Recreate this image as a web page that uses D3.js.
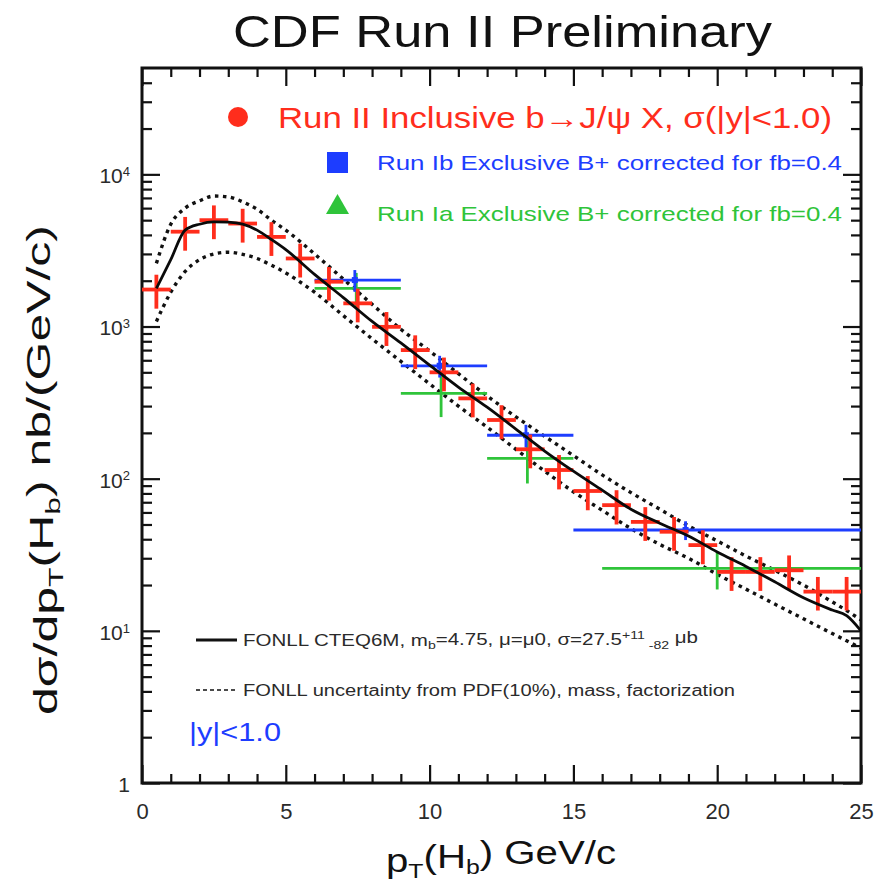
<!DOCTYPE html>
<html>
<head>
<meta charset="utf-8">
<script src="https://cdn.jsdelivr.net/npm/d3@7"></script>
<style>
  html, body { margin: 0; padding: 0; background: #fff; }
  svg { display: block; }
  text { font-family: "Liberation Sans", Arial, Helvetica, sans-serif; }
</style>
</head>
<body>
<svg id="chart" width="886" height="881"></svg>
<script>
// ---- Run II inclusive b -> J/psi X (bin centres, values, errors) ----
const runIIx   = [0.5, 1.5, 2.5, 3.5, 4.5, 5.5, 6.5, 7.5, 8.5, 9.5, 10.5, 11.5, 12.5,
                  13.5, 14.5, 15.5, 16.5, 17.5, 18.5, 19.5, 20.5, 21.5, 22.5, 23.5, 24.5];
const runIIy   = [1750, 4200, 5000, 4750, 3880, 2800, 1970, 1420, 995, 700, 500, 337, 243,
                  156, 114, 83, 67, 52, 44.8, 36.6, 24.4, 24.4, 25, 18.1, 18.1];
const runIIerr = [440, 1050, 1250, 1190, 970, 700, 490, 355, 250, 175, 125, 84, 61,
                  39, 29, 21, 17, 13, 11.2, 9.2, 6.1, 6.1, 6.3, 4.5, 4.5];
const runIIhalfBin = 0.5;

// ---- Run Ib exclusive B+ ----
const runIbx   = [7.4, 10.35, 13.35, 18.9];
const runIbLo  = [6, 9, 12, 15];
const runIbHi  = [9, 12, 15, 25];
const runIby   = [2020, 552, 193, 46];
const runIberr = [330, 90, 33, 6.5];

// ---- Run Ia exclusive B+ ----
const runIax   = [7.45, 10.4, 13.4, 20.0];
const runIaLo  = [6, 9, 12, 16];
const runIaHi  = [9, 12, 15, 25];
const runIay   = [1780, 364, 136, 25.7];
const runIaerr = [470, 110, 43, 7];

// ---- FONLL prediction: central value and uncertainty band ----
const fonllX     = [0.5, 1, 1.5, 2, 2.5, 3, 3.5, 4, 4.5, 5, 6, 7, 8, 9, 10, 11, 12, 13, 14, 15,
                    16, 17, 18, 19, 20, 21, 22, 23, 24, 24.5, 25];
const fonllCent  = [1780, 2750, 4300, 4700, 4870, 4850, 4710, 4300, 3730, 3200, 2200, 1550, 1080,
                    780, 558, 400, 295, 212, 152, 112, 84, 63, 51, 42, 33, 26.5, 21, 16.5, 13.7,
                    12.6, 10];
const fonllUpper = [2600, 4700, 6000, 6700, 7200, 7100, 6600, 5900, 5000, 4300, 3000, 2050, 1400,
                    960, 690, 490, 350, 255, 190, 142, 106, 81, 63, 49, 39, 31, 25, 20, 15.5,
                    13.6, 11.8];
const fonllLower = [1080, 1680, 2300, 2750, 3000, 3080, 2980, 2800, 2530, 2250, 1680, 1180, 830,
                    590, 420, 300, 218, 156, 112, 82, 62, 47, 37, 30, 23.5, 18.8, 15, 12, 9.6,
                    8.6, 7.7];

// ---- axis ticks ----
const xMajorTicks = [0, 5, 10, 15, 20, 25];
const xMinorTicks = d3.range(0, 26).filter(v => v % 5 !== 0);
const yMajorTicks = [1, 10, 100, 1000, 10000];
const yMinorTicks = [];
[1, 10, 100, 1000, 10000].forEach(d => {
  for (let k = 2; k <= 9; k++) if (k * d < 5e4) yMinorTicks.push(k * d);
});

const RED = "#ff2d1c", BLUE = "#1d3dff", GREEN = "#2fc43a";

const svg = d3.select("#chart");
const X0 = 142, X1 = 861, Y0 = 68, Y1 = 783;
const x = d3.scaleLinear().domain([0, 25]).range([X0, X1]);
const y = d3.scaleLog().domain([1, 5e4]).range([Y1, Y0]);

// ---- title ----
svg.append("text").attr("x", 233).attr("y", 47)
  .attr("font-size", 45).attr("fill", "#111")
  .attr("textLength", 539).attr("lengthAdjust", "spacingAndGlyphs")
  .text("CDF Run II Preliminary");

// ---- axes (ticks point inwards on all four sides) ----
const axisColor = "#111";
function styleAxis(g) {
  g.select(".domain").remove();
  g.selectAll(".tick line").attr("stroke", axisColor).attr("stroke-width", 2.2);
  g.selectAll(".tick text").attr("fill", "#2a2a2a").attr("font-family", "Liberation Sans, Arial, sans-serif");
}
// bottom
svg.append("g").attr("transform", `translate(0,${Y1})`)
  .call(d3.axisBottom(x).tickValues(xMajorTicks).tickSizeInner(-18).tickSizeOuter(0)
        .tickPadding(20).tickFormat(d3.format("d")))
  .call(styleAxis)
  .call(g => g.selectAll(".tick text").attr("font-size", 22));
svg.append("g").attr("transform", `translate(0,${Y1})`)
  .call(d3.axisBottom(x).tickValues(xMinorTicks).tickSizeInner(-9).tickSizeOuter(0).tickFormat(""))
  .call(styleAxis);
// top
svg.append("g").attr("transform", `translate(0,${Y0})`)
  .call(d3.axisTop(x).tickValues(xMajorTicks).tickSizeInner(-18).tickSizeOuter(0).tickFormat(""))
  .call(styleAxis);
svg.append("g").attr("transform", `translate(0,${Y0})`)
  .call(d3.axisTop(x).tickValues(xMinorTicks).tickSizeInner(-9).tickSizeOuter(0).tickFormat(""))
  .call(styleAxis);
// left
const leftAxis = svg.append("g").attr("transform", `translate(${X0},0)`)
  .call(d3.axisLeft(y).tickValues(yMajorTicks).tickSizeInner(-18).tickSizeOuter(0)
        .tickPadding(12).tickFormat(() => ""))
  .call(styleAxis);
leftAxis.selectAll(".tick text").each(function (d) {
  const t = d3.select(this).attr("font-size", 21).attr("dy", "0.4em");
  const e = Math.round(Math.log10(d));
  if (e === 0) { t.text("1"); return; }
  t.text("10");
  t.append("tspan").attr("dy", "-0.55em").attr("font-size", 13).text(e);
});
svg.append("g").attr("transform", `translate(${X0},0)`)
  .call(d3.axisLeft(y).tickValues(yMinorTicks).tickSizeInner(-10).tickSizeOuter(0).tickFormat(""))
  .call(styleAxis);
// right
svg.append("g").attr("transform", `translate(${X1},0)`)
  .call(d3.axisRight(y).tickValues(yMajorTicks).tickSizeInner(-18).tickSizeOuter(0).tickFormat(""))
  .call(styleAxis);
svg.append("g").attr("transform", `translate(${X1},0)`)
  .call(d3.axisRight(y).tickValues(yMinorTicks).tickSizeInner(-10).tickSizeOuter(0).tickFormat(""))
  .call(styleAxis);

// frame
svg.append("rect").attr("x", X0).attr("y", Y0).attr("width", X1 - X0).attr("height", Y1 - Y0)
  .attr("fill", "none").attr("stroke", axisColor).attr("stroke-width", 3);

// ---- axis titles ----
const yTitle = svg.append("text").attr("transform", `translate(57,715) rotate(-90)`)
  .attr("font-size", 33).attr("fill", "#111")
  .attr("textLength", 490).attr("lengthAdjust", "spacingAndGlyphs");
yTitle.append("tspan").text("dσ/dp");
yTitle.append("tspan").attr("dy", "0.3em").attr("font-size", 21).text("T");
yTitle.append("tspan").attr("dy", "-0.3em").text("(H");
yTitle.append("tspan").attr("dy", "0.3em").attr("font-size", 21).text("b");
yTitle.append("tspan").attr("dy", "-0.3em").text(") nb/(GeV/c)");

const xTitle = svg.append("text").attr("x", 386).attr("y", 872)
  .attr("font-size", 34).attr("fill", "#111")
  .attr("textLength", 230).attr("lengthAdjust", "spacingAndGlyphs");
xTitle.append("tspan").text("p");
xTitle.append("tspan").attr("dy", "0.3em").attr("font-size", 21).text("T");
xTitle.append("tspan").attr("dy", "-0.3em").text("(H");
xTitle.append("tspan").attr("dy", "0.3em").attr("font-size", 21).text("b");
xTitle.append("tspan").attr("dy", "-0.3em").text(") GeV/c");

// ---- clip to plotting area ----
svg.append("clipPath").attr("id", "plotClip").append("rect")
  .attr("x", X0).attr("y", Y0).attr("width", X1 - X0).attr("height", Y1 - Y0);
const plot = svg.append("g").attr("clip-path", "url(#plotClip)");

// ---- FONLL curves ----
const fonll = fonllX.map((v, i) => ({ x: v, c: fonllCent[i], u: fonllUpper[i], l: fonllLower[i] }));
const lineOf = key => d3.line().x(d => x(d.x)).y(d => y(d[key])).curve(d3.curveMonotoneX);
["u", "l"].forEach(k => {
  plot.append("path").datum(fonll).attr("d", lineOf(k)).attr("fill", "none")
    .attr("stroke", "#111").attr("stroke-width", 3.4).attr("stroke-dasharray", "3.5,4.5");
});

// ---- error-bar crosses ----
function crosses(cls, xs, ys, errs, lo, hi, color, width) {
  const data = xs.map((v, i) => ({ x: v, y: ys[i], e: errs[i], lo: lo[i], hi: hi[i] }));
  const g = plot.append("g").attr("class", cls).attr("stroke", color).attr("stroke-width", width);
  g.selectAll("line.h").data(data).join("line").attr("class", "h")
    .attr("x1", d => x(d.lo)).attr("x2", d => x(d.hi))
    .attr("y1", d => y(d.y)).attr("y2", d => y(d.y));
  g.selectAll("line.v").data(data).join("line").attr("class", "v")
    .attr("x1", d => x(d.x)).attr("x2", d => x(d.x))
    .attr("y1", d => y(d.y + d.e)).attr("y2", d => y(Math.max(d.y - d.e, 1)));
  return g;
}
crosses("runIa", runIax, runIay, runIaerr, runIaLo, runIaHi, GREEN, 2.8);
crosses("runIb", runIbx, runIby, runIberr, runIbLo, runIbHi, BLUE, 2.8);
plot.selectAll("rect.ibmark").data(runIbx).join("rect").attr("class", "ibmark")
  .attr("x", d => x(d) - 3).attr("y", (d, i) => y(runIby[i]) - 3)
  .attr("width", 6).attr("height", 6).attr("fill", BLUE);
crosses("runII", runIIx, runIIy, runIIerr,
        runIIx.map(v => v - runIIhalfBin), runIIx.map(v => v + runIIhalfBin), RED, 3.8);

// central FONLL curve drawn over the data
plot.append("path").datum(fonll).attr("d", lineOf("c")).attr("fill", "none")
  .attr("stroke", "#0a0a0a").attr("stroke-width", 2.8);

// ---- legend (upper) ----
svg.append("circle").attr("cx", 238).attr("cy", 117).attr("r", 10).attr("fill", RED);
svg.append("text").attr("x", 278).attr("y", 128).attr("font-size", 29).attr("fill", RED)
  .attr("textLength", 554).attr("lengthAdjust", "spacingAndGlyphs")
  .text("Run II Inclusive b→J/ψ X, σ(|y|<1.0)");
svg.append("rect").attr("x", 327).attr("y", 152).attr("width", 21).attr("height", 21).attr("fill", BLUE);
svg.append("text").attr("x", 377).attr("y", 170).attr("font-size", 21).attr("fill", BLUE)
  .attr("textLength", 465).attr("lengthAdjust", "spacingAndGlyphs")
  .text("Run Ib Exclusive B+ corrected for fb=0.4");
svg.append("path").attr("d", "M337.5,194 L326,214 L349,214 Z").attr("fill", GREEN);
svg.append("text").attr("x", 377).attr("y", 221).attr("font-size", 21).attr("fill", GREEN)
  .attr("textLength", 465).attr("lengthAdjust", "spacingAndGlyphs")
  .text("Run Ia Exclusive B+ corrected for fb=0.4");

// ---- legend (lower) ----
svg.append("line").attr("x1", 196).attr("x2", 237).attr("y1", 640).attr("y2", 640)
  .attr("stroke", "#111").attr("stroke-width", 2.8);
const l1 = svg.append("text").attr("x", 243).attr("y", 646).attr("font-size", 16).attr("fill", "#2a2a2a")
  .attr("textLength", 455).attr("lengthAdjust", "spacingAndGlyphs");
l1.append("tspan").text("FONLL CTEQ6M, m");
l1.append("tspan").attr("dy", "0.3em").attr("font-size", 11).text("b");
l1.append("tspan").attr("dy", "-0.3em").text("=4.75, μ=μ0, σ=27.5");
l1.append("tspan").attr("dy", "-0.5em").attr("font-size", 11).text("+11");
l1.append("tspan").attr("dy", "0.9em").attr("font-size", 11).text(" -82");
l1.append("tspan").attr("dy", "-0.4em").text(" μb");
svg.append("line").attr("x1", 196).attr("x2", 237).attr("y1", 690).attr("y2", 690)
  .attr("stroke", "#111").attr("stroke-width", 1.6).attr("stroke-dasharray", "4,3");
svg.append("text").attr("x", 243).attr("y", 696).attr("font-size", 16).attr("fill", "#2a2a2a")
  .attr("textLength", 492).attr("lengthAdjust", "spacingAndGlyphs")
  .text("FONLL uncertainty from PDF(10%), mass, factorization");
svg.append("text").attr("x", 189).attr("y", 741).attr("font-size", 26).attr("fill", BLUE)
  .attr("textLength", 92).attr("lengthAdjust", "spacingAndGlyphs")
  .text("|y|<1.0");
</script>
</body>
</html>
